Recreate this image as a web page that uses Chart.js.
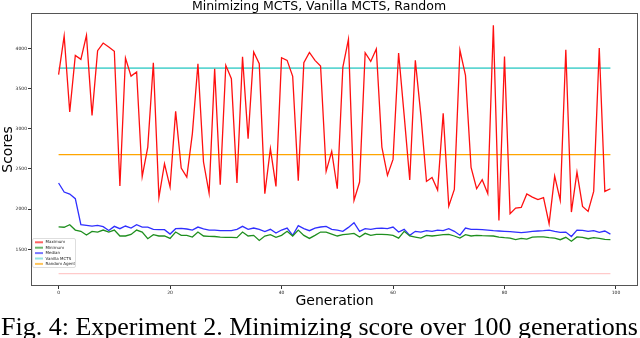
<!DOCTYPE html>
<html>
<head>
<meta charset="utf-8">
<script src="https://cdn.jsdelivr.net/npm/chart.js@4/dist/chart.umd.min.js"></script>
<style>
  html, body { margin: 0; padding: 0; background: #fff; overflow: hidden; }
  #wrap { position: relative; width: 640px; height: 338px; }
  #caption {
    position: absolute; left: 1px; top: 314px; white-space: nowrap;
    font-family: "Liberation Serif", "DejaVu Serif", serif; font-size: 26px; line-height: 26px; color: #000;
  }
</style>
</head>
<body>
<div id="wrap">
  <canvas id="myChart" width="640" height="338"></canvas>
  <div id="caption">Fig. 4: Experiment 2. Minimizing score over 100 generations</div>
</div>
<script>
const generations = Array.from({ length: 100 }, (_, i) => i);

const maximum = [
  3673, 4153, 3208, 3913, 3863, 4162, 3166, 3971, 4066, 4016,
  3963, 2287, 3880, 3655, 3705, 2404, 2772, 3822, 2146, 2565,
  2275, 3216, 2511, 2399, 2940, 3809, 2586, 2200, 3747, 2304,
  3789, 3623, 2325, 3896, 2877, 3954, 3809, 2192, 2752, 2283,
  3884, 3851, 3652, 2354, 3822, 3950, 3851, 3780, 2470, 2719,
  2254, 3768, 4112, 2109, 2337, 3946, 3838, 3992, 2772, 2420,
  2619, 3942, 3166, 2362, 3851, 3166, 2345, 2395, 2237, 3191,
  2038, 2246, 3979, 3664, 2520, 2254, 2366, 2192, 4286, 1860,
  3900, 1944, 2013, 2022, 2188, 2150, 2118, 2143, 1819, 2411,
  2109, 3984, 1964, 2461, 2034, 1972, 2221, 4004, 2221, 2254
];

const minimum = [
  1780, 1775, 1807, 1740, 1725, 1678, 1724, 1715, 1740, 1715,
  1740, 1666, 1666, 1686, 1740, 1715, 1632, 1682, 1666, 1666,
  1636, 1715, 1674, 1674, 1653, 1715, 1666, 1662, 1660, 1653,
  1650, 1650, 1645, 1715, 1666, 1674, 1610, 1666, 1682, 1650,
  1674, 1724, 1666, 1740, 1674, 1636, 1674, 1715, 1715, 1690,
  1666, 1682, 1690, 1699, 1653, 1699, 1674, 1686, 1686, 1682,
  1674, 1640, 1724, 1666, 1653, 1640, 1674, 1666, 1674, 1682,
  1686, 1666, 1640, 1682, 1666, 1674, 1670, 1668, 1666, 1653,
  1645, 1640, 1620, 1636, 1628, 1653, 1655, 1655, 1645, 1640,
  1620, 1650, 1600, 1655, 1650, 1632, 1645, 1636, 1624, 1622
];

const median = [
  2325, 2213, 2188, 2130, 1807, 1798, 1790, 1798, 1782, 1735,
  1786, 1757, 1790, 1765, 1807, 1777, 1777, 1749, 1745, 1745,
  1690, 1757, 1761, 1753, 1740, 1777, 1755, 1740, 1740, 1732,
  1732, 1732, 1749, 1786, 1749, 1765, 1749, 1720, 1749, 1703,
  1740, 1765, 1674, 1794, 1757, 1732, 1765, 1778, 1786, 1749,
  1740, 1724, 1773, 1832, 1724, 1757, 1749, 1761, 1765, 1757,
  1777, 1715, 1749, 1674, 1724, 1715, 1732, 1724, 1740, 1732,
  1757, 1724, 1676, 1765, 1749, 1749, 1745, 1740, 1732, 1728,
  1724, 1720, 1715, 1707, 1715, 1724, 1728, 1732, 1740, 1724,
  1711, 1715, 1660, 1740, 1736, 1724, 1732, 1711, 1728, 1690
];

const vanillaMcts = 3755;
const randomAgent = 2678;
const lowBaseline = 1198;

const yTicks = [1500, 2000, 2500, 3000, 3500, 4000];
const xTicks = [0, 20, 40, 60, 80, 100];

function pts(values) {
  return generations.map((g, i) => ({ x: g, y: values[i] }));
}
function flat(v) {
  return generations.map(g => ({ x: g, y: v }));
}

// legend drawn inside the plot, lower left, like matplotlib
const boxLegend = {
  id: 'boxLegend',
  afterDraw(chart) {
    const ctx = chart.ctx;
    const ca = chart.chartArea;
    const items = chart.data.datasets.filter(d => d.label);
    const x0 = ca.left + 1.5, y0 = 238.5, w = 43, h = 29;
    ctx.save();
    ctx.fillStyle = 'rgba(255,255,255,0.8)';
    ctx.strokeStyle = '#d6d6d6';
    ctx.lineWidth = 0.8;
    ctx.beginPath();
    ctx.roundRect(x0, y0, w, h, 1.5);
    ctx.fill();
    ctx.stroke();
    ctx.font = '4px "DejaVu Sans"';
    ctx.textBaseline = 'middle';
    items.forEach((d, k) => {
      const y = y0 + 3.8 + k * 5.4;
      ctx.globalAlpha = 0.65;
      ctx.strokeStyle = d.borderColor;
      ctx.lineWidth = 2;
      ctx.beginPath();
      ctx.moveTo(x0 + 2.5, y);
      ctx.lineTo(x0 + 10.5, y);
      ctx.stroke();
      ctx.globalAlpha = 1;
      ctx.fillStyle = '#222';
      ctx.fillText(d.label, x0 + 13, y);
    });
    ctx.restore();
  }
};

const frame = {
  id: 'frame',
  afterDraw(chart) {
    const ca = chart.chartArea;
    const ctx = chart.ctx;
    ctx.save();
    ctx.strokeStyle = '#555';
    ctx.lineWidth = 1;
    ctx.strokeRect(ca.left + 0.5, ca.top + 0.5, ca.right - ca.left - 1, ca.bottom - ca.top - 1);
    ctx.restore();
  }
};

document.addEventListener("DOMContentLoaded", function() {
  const ctx = document.getElementById('myChart');

  new Chart(ctx, {
    type: 'line',
    data: {
      datasets: [
      {
        label: 'Maximum',
        data: pts(maximum),
        borderColor: '#ff1010',
        borderWidth: 1.3
      } , {
        label: 'Minimum',
        data: pts(minimum),
        borderColor: '#1f8f1f',
        borderWidth: 1.3
      } , {
        label: 'Median',
        data: pts(median),
        borderColor: '#2f2fff',
        borderWidth: 1.3
      } , {
        label: 'Vanilla MCTS',
        data: flat(vanillaMcts),
        borderColor: '#5fd6d2',
        borderWidth: 1.8
      } , {
        label: 'Random Agent',
        data: flat(randomAgent),
        borderColor: '#ffa500',
        borderWidth: 1.3
      } , {
        label: '',
        data: flat(lowBaseline),
        borderColor: '#ffcaca',
        borderWidth: 1.3
      }
    ]
    },
    options: {
      responsive: false,
      animation: false,
      elements: { point: { radius: 0 }, line: { tension: 0 } },
      layout: { padding: { left: 0, right: 2, top: 0, bottom: 28 } },
      plugins: {
        legend: { display: false },
        tooltip: { enabled: false },
        title: {
          display: true,
          text: 'Minimizing MCTS, Vanilla MCTS, Random',
          color: '#000',
          font: { family: 'DejaVu Sans', size: 12.5, weight: 'normal', lineHeight: 1 },
          padding: { top: 0, bottom: 0.5 }
        }
      },
      scales: {
        x: {
          type: 'linear',
          min: -4.95,
          max: 103.95,
          afterBuildTicks: s => { s.ticks = xTicks.map(v => ({ value: v })); },
          afterFit: s => { s.height = 24; },
          grid: { drawOnChartArea: false, tickLength: 3, color: '#333' },
          border: { display: false },
          ticks: { color: '#222', font: { family: 'DejaVu Sans', size: 4.5 }, padding: 1, maxRotation: 0,
                   callback: v => String(v) },
          title: {
            display: true, text: 'Generation', color: '#000',
            font: { family: 'DejaVu Sans', size: 14 }, padding: 0
          }
        },
        y: {
          min: 1044,
          max: 4440,
          afterBuildTicks: s => { s.ticks = yTicks.map(v => ({ value: v })); },
          afterFit: s => { s.width = 31; },
          grid: { drawOnChartArea: false, tickLength: 3, color: '#333' },
          border: { display: false },
          ticks: { color: '#222', font: { family: 'DejaVu Sans', size: 4.5 }, padding: 1,
                   callback: v => String(v) },
          title: {
            display: true, text: 'Scores', color: '#000',
            font: { family: 'DejaVu Sans', size: 14 }, padding: 0
          }
        }
      }
    },
    plugins: [frame, boxLegend]
  });
});
</script>
</body>
</html>
